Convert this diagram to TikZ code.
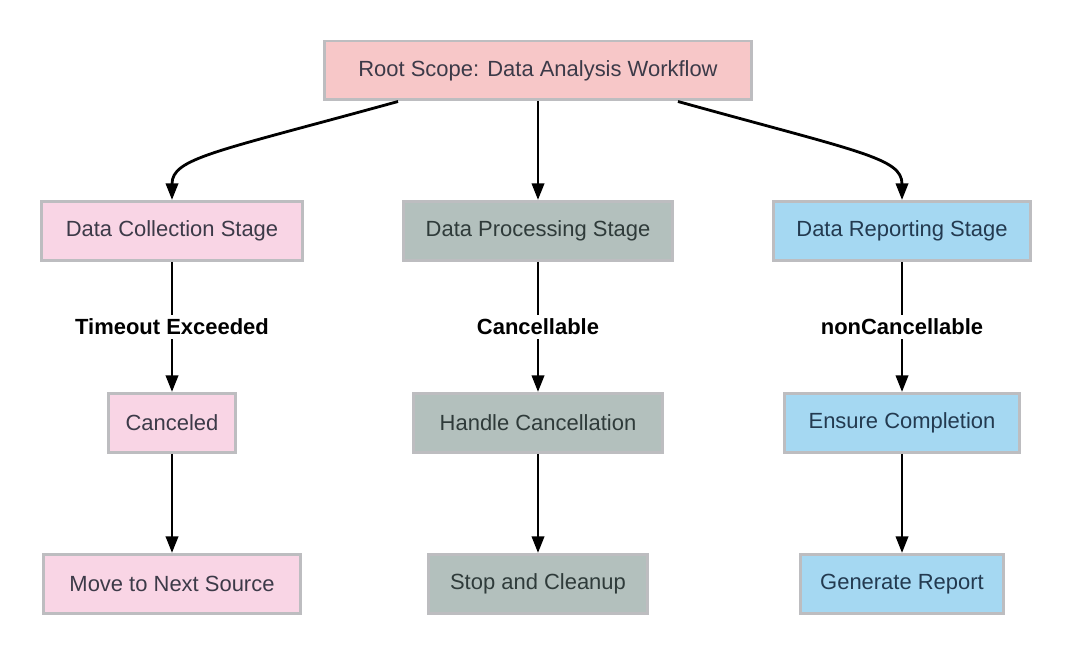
\documentclass[tikz,border=0pt]{standalone}
\usepackage{fontspec}
\setmainfont{Liberation Sans}
\usepackage{xcolor}
\usepackage{tikz}
\usetikzlibrary{arrows.meta, positioning}
\definecolor{RootFill}{RGB}{247,199,200}
\definecolor{CollFill}{RGB}{249,213,229}
\definecolor{ProcFill}{RGB}{179,192,189}
\definecolor{RepFill}{RGB}{165,216,242}
\definecolor{EdgeGray}{RGB}{189,189,192}
\definecolor{CollText}{RGB}{60,58,72}
\definecolor{ProcText}{RGB}{47,59,58}
\definecolor{RepText}{RGB}{35,58,80}
\tikzset{
  stage/.style={
    rectangle, minimum height=1.18cm, inner sep=0pt,
    draw=EdgeGray, line width=1.7pt,
    font=\fontsize{12.5}{15}\selectfont
  },
  coll/.style={stage, fill=CollFill, text=CollText},
  proc/.style={stage, fill=ProcFill, text=ProcText},
  rep/.style={stage, fill=RepFill, text=RepText},
  arr/.style={-{Triangle[length=9.5pt,width=7pt]}, draw=black, line width=1.6pt},
  cond/.style={fill=white, inner sep=2pt, font=\fontsize{12.5}{15}\selectfont\bfseries, text=black}
}
\begin{document}
\begin{tikzpicture}[x=0.02cm, y=-0.02cm]
  \useasboundingbox (0,0) rectangle (1072,655);

  % Root
  \node[stage, fill=RootFill, text=CollText, minimum width=8.54cm] (root) at (538,70.5)
       {Root Scope: Data Analysis Workflow};

  % Stage nodes
  \node[coll, minimum width=5.24cm] (coll) at (172,231) {Data Collection Stage};
  \node[proc, minimum width=5.38cm] (proc) at (538,231) {Data Processing Stage};
  \node[rep,  minimum width=5.16cm] (rep)  at (902,231) {Data Reporting Stage};

  % Second row
  \node[coll, minimum width=2.54cm] (canc)   at (172,423) {Canceled};
  \node[proc, minimum width=4.98cm] (handle) at (538,423) {Handle Cancellation};
  \node[rep,  minimum width=4.70cm] (ensure) at (902,423) {Ensure Completion};

  % Third row
  \node[coll, minimum width=5.16cm] (next)   at (172,584) {Move to Next Source};
  \node[proc, minimum width=4.38cm] (stop)   at (538,584) {Stop and Cleanup};
  \node[rep,  minimum width=4.06cm] (report) at (902,584) {Generate Report};

  % Arrows
  \draw[arr] ([xshift=-2.8cm]root.south) .. controls (215,152) and (172,158) .. (coll.north);
  \draw[arr] (root.south) -- (proc.north);
  \draw[arr] ([xshift=2.8cm]root.south) .. controls (860,152) and (902,158) .. (rep.north);

  \draw[arr] (coll) -- node[cond] {Timeout Exceeded} (canc);
  \draw[arr] (proc) -- node[cond] {Cancellable} (handle);
  \draw[arr] (rep)  -- node[cond] {nonCancellable} (ensure);

  \draw[arr] (canc)   -- (next);
  \draw[arr] (handle) -- (stop);
  \draw[arr] (ensure) -- (report);
\end{tikzpicture}
\end{document}
